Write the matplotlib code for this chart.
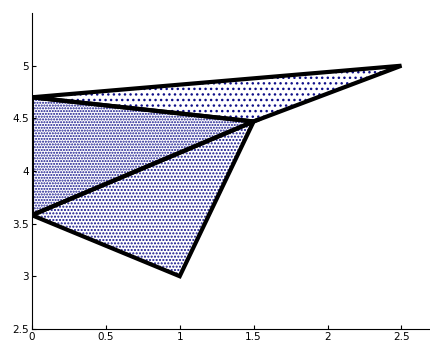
import matplotlib
matplotlib.use("Agg")
import matplotlib.pyplot as plt
from matplotlib.patches import Polygon

# triangle corners (x, y), all three share the middle vertex
tri_upper_x = [0.0, 2.5, 1.5]
tri_upper_y = [4.7, 5.0, 4.47]
tri_left_x = [0.0, 1.5, 0.0]
tri_left_y = [4.7, 4.47, 3.58]
tri_lower_x = [0.0, 1.5, 1.0]
tri_lower_y = [3.58, 4.47, 3.0]

# stipple density for each triangle (denser where more points landed)
hatches = ["...", "......", "....."]

x_ticks = [0, 0.5, 1, 1.5, 2, 2.5]
y_ticks = [2.5, 3, 3.5, 4, 4.5, 5]

plt.rcParams["hatch.linewidth"] = 1.0

fig = plt.figure(figsize=(4.31, 3.44), dpi=100)
ax = fig.add_axes([0.074, 0.044, 0.926, 0.918])

tris = [(tri_upper_x, tri_upper_y), (tri_left_x, tri_left_y), (tri_lower_x, tri_lower_y)]
for (tx, ty), h in zip(tris, hatches):
    ax.add_patch(Polygon(list(zip(tx, ty)), closed=True, facecolor="none",
                         edgecolor="#10108a", linewidth=0, hatch=h))

for tx, ty in tris:
    ax.plot(tx + tx[:1], ty + ty[:1], color="black", linewidth=3,
            solid_joinstyle="miter", solid_capstyle="butt")

ax.set_xlim(0, 2.7)
ax.set_ylim(2.5, 5.5)
ax.set_xticks(x_ticks)
ax.set_xticklabels(["0", "0.5", "1", "1.5", "2", "2.5"])
ax.set_yticks(y_ticks)
ax.set_yticklabels(["2.5", "3", "3.5", "4", "4.5", "5"])
ax.tick_params(direction="in", length=3, labelsize=7.5, pad=2)
ax.spines["top"].set_visible(False)
ax.spines["right"].set_visible(False)
for s in ("left", "bottom"):
    ax.spines[s].set_linewidth(0.8)

fig.savefig("out.png", dpi=100)
